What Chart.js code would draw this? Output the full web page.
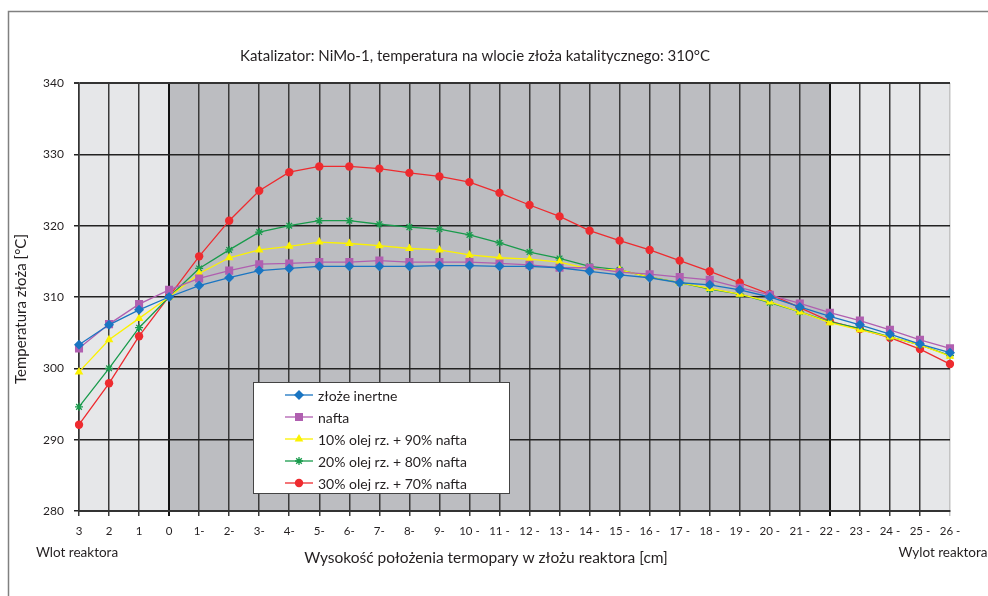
<!DOCTYPE html>
<html>
<head>
<meta charset="utf-8">
<script src="https://cdn.jsdelivr.net/npm/chart.js"></script>
<style>
  html, body { margin: 0; padding: 0; background: #fff; }
  canvas { display: block; }
</style>
</head>
<body>
<canvas id="chart" width="988" height="596"></canvas>
<script>
const positions = ['3', '2', '1', '0', '1-', '2-', '3-', '4-', '5-', '6-', '7-', '8-', '9-',
    '10 -', '11 -', '12 -', '13 -', '14 -', '15 -', '16 -', '17 -', '18 -', '19 -',
    '20 -', '21 -', '22 -', '23 -', '24 -', '25 -', '26 -'];

const zlozeInertne = [303.3, 306.1, 308.2, 310.0, 311.6, 312.7, 313.7, 314.0, 314.3, 314.3,
    314.3, 314.3, 314.4, 314.4, 314.3, 314.3, 314.1, 313.6, 313.1, 312.7,
    312.0, 311.7, 311.0, 310.0, 308.6, 307.3, 306.1, 304.8, 303.4, 302.2];
const nafta = [302.8, 306.2, 309.0, 311.0, 312.6, 313.7, 314.6, 314.7, 314.9, 314.9,
    315.1, 314.9, 314.9, 314.9, 314.7, 314.5, 314.1, 314.1, 313.5, 313.2,
    312.8, 312.4, 311.3, 310.3, 309.1, 307.8, 306.7, 305.4, 304.0, 302.8];
const olej10 = [299.5, 304.0, 307.0, 310.0, 313.3, 315.5, 316.6, 317.1, 317.7, 317.5,
    317.2, 316.8, 316.6, 315.9, 315.5, 315.3, 314.9, 313.9, 313.8, 312.8,
    312.0, 311.2, 310.4, 309.3, 307.9, 306.4, 305.4, 304.4, 303.3, 301.7];
const olej20 = [294.6, 300.0, 305.7, 310.0, 314.0, 316.6, 319.1, 320.0, 320.7, 320.7,
    320.2, 319.8, 319.5, 318.7, 317.6, 316.3, 315.4, 314.3, 313.8, 312.8,
    312.0, 311.1, 310.4, 309.2, 307.9, 306.5, 305.6, 304.4, 303.3, 301.8];
const olej30 = [292.1, 297.9, 304.5, 310.1, 315.7, 320.7, 324.9, 327.5, 328.3, 328.3,
    328.0, 327.4, 326.9, 326.1, 324.6, 322.9, 321.3, 319.3, 317.9, 316.6,
    315.1, 313.6, 312.0, 310.4, 308.5, 306.6, 305.5, 304.3, 302.7, 300.6];

const yTicks = [280, 290, 300, 310, 320, 330, 340];

const FONT = 'Lato, "Open Sans", sans-serif';
const TEXT = '#231f20';

function series(label, data, color, style, radius) {
    return {
        label: label,
        data: data,
        borderColor: color,
        backgroundColor: color,
        borderWidth: 1.3,
        pointStyle: style,
        pointRadius: radius,
        pointBorderWidth: style === 'star' ? 1.3 : 0,
        pointBorderColor: color,
        tension: 0
    };
}

// light bed zones + dark catalyst zone (0 .. 22-), outer frame
const backgroundPlugin = {
    id: 'zones',
    beforeDraw(chart) {
        const {ctx, chartArea: a, scales: {x}} = chart;
        ctx.save();
        ctx.fillStyle = '#fff';
        ctx.fillRect(0, 0, chart.width, chart.height);
        ctx.strokeStyle = '#808080';
        ctx.lineWidth = 1.5;
        ctx.strokeRect(8.5, 11.5, chart.width + 10, chart.height + 10);
        ctx.fillStyle = '#e6e7e9';
        ctx.fillRect(a.left, a.top, a.right - a.left, a.bottom - a.top);
        const x0 = x.getPixelForValue(3), x1 = x.getPixelForValue(25);
        ctx.fillStyle = '#bcbdc1';
        ctx.fillRect(x0, a.top, x1 - x0, a.bottom - a.top);
        ctx.restore();
    }
};

// legend box inside the plot and the axis texts
const textPlugin = {
    id: 'texts',
    afterDraw(chart) {
        const {ctx, scales: {x}} = chart;
        ctx.save();
        ctx.fillStyle = TEXT;
        ctx.textBaseline = 'middle';
        ctx.font = '13.5px ' + FONT;
        ctx.textAlign = 'center';
        ctx.fillText('Wlot reaktora', x.getPixelForValue(0) - 2, 553);
        ctx.fillText('Wylot reaktora', x.getPixelForValue(29) - 7, 553);
        ctx.font = '15.5px ' + FONT;
        ctx.fillText('Wysokość położenia termopary w złożu reaktora [cm]', 486, 558);

        ctx.save();
        ctx.translate(21, 309);
        ctx.rotate(-Math.PI / 2);
        ctx.font = '15px ' + FONT;
        ctx.fillText('Temperatura złoża [°C]', 0, 0);
        ctx.restore();

        const bx = 253, by = 382, bw = 256, bh = 111;
        ctx.fillStyle = '#fff';
        ctx.fillRect(bx, by, bw, bh);
        ctx.strokeStyle = '#444';
        ctx.lineWidth = 1;
        ctx.strokeRect(bx + 0.5, by + 0.5, bw, bh);
        ctx.textAlign = 'left';
        ctx.font = '14px ' + FONT;
        chart.data.datasets.forEach((ds, i) => {
            const y = 395 + i * 22;
            ctx.strokeStyle = ds.borderColor;
            ctx.lineWidth = 1.3;
            ctx.beginPath();
            ctx.moveTo(285, y);
            ctx.lineTo(313, y);
            ctx.stroke();
            ctx.fillStyle = ds.backgroundColor;
            Chart.helpers.drawPoint(ctx, {
                pointStyle: ds.pointStyle,
                radius: ds.pointRadius,
                borderWidth: ds.pointBorderWidth,
                rotation: 0
            }, 299, y);
            ctx.fillStyle = TEXT;
            ctx.fillText(ds.label, 318, y + 1);
        });
        ctx.restore();
    }
};

new Chart(document.getElementById('chart'), {
    type: 'line',
    data: {
        labels: positions,
        datasets: [
            series('złoże inertne', zlozeInertne, '#1a75c2', 'rectRot', 5),
            series('nafta', nafta, '#b05fb0', 'rect', 5.7),
            series('10% olej rz. + 90% nafta', olej10, '#fbf200', 'triangle', 5),
            series('20% olej rz. + 80% nafta', olej20, '#199b4c', 'star', 4),
            series('30% olej rz. + 70% nafta', olej30, '#ee2b2f', 'circle', 4.2)
        ]
    },
    options: {
        responsive: false,
        animation: false,
        devicePixelRatio: 1,
        layout: { padding: { left: 0, right: 38, top: 0, bottom: 0 } },
        plugins: {
            legend: { display: false },
            tooltip: { enabled: false },
            title: {
                display: true,
                text: 'Katalizator: NiMo-1, temperatura na wlocie złoża katalitycznego: 310°C',
                color: TEXT,
                font: { family: FONT, size: 15, weight: 'normal' },
                padding: { top: 47.5, bottom: 17.5 }
            }
        },
        scales: {
            x: {
                offset: false,
                afterFit(scale) { scale.height = 85; },
                ticks: {
                    color: TEXT,
                    font: { family: FONT, size: 11.5 },
                    autoSkip: false,
                    maxRotation: 0,
                    padding: 8
                },
                grid: {
                    tickLength: 5,
                    color: c => c.index === 29 ? '#c4c4c4' : (c.index === 3 || c.index === 25 ? '#111' : '#3a3a3a'),
                    lineWidth: c => (c.index === 3 || c.index === 25) ? 2 : 1.5
                },
                border: { color: '#333', width: 2 }
            },
            y: {
                min: 280,
                max: 340,
                afterFit(scale) { scale.width = 79; },
                afterBuildTicks(scale) { scale.ticks = yTicks.map(v => ({value: v})); },
                ticks: {
                    color: TEXT,
                    font: { family: FONT, size: 12 },
                    padding: 10
                },
                grid: {
                    tickLength: 5,
                    color: c => c.index === 6 ? '#333' : '#222',
                    lineWidth: c => c.index === 6 ? 2 : 1.5
                },
                border: { color: '#333', width: 1.5 }
            }
        }
    },
    plugins: [backgroundPlugin, textPlugin]
});
</script>
</body>
</html>
